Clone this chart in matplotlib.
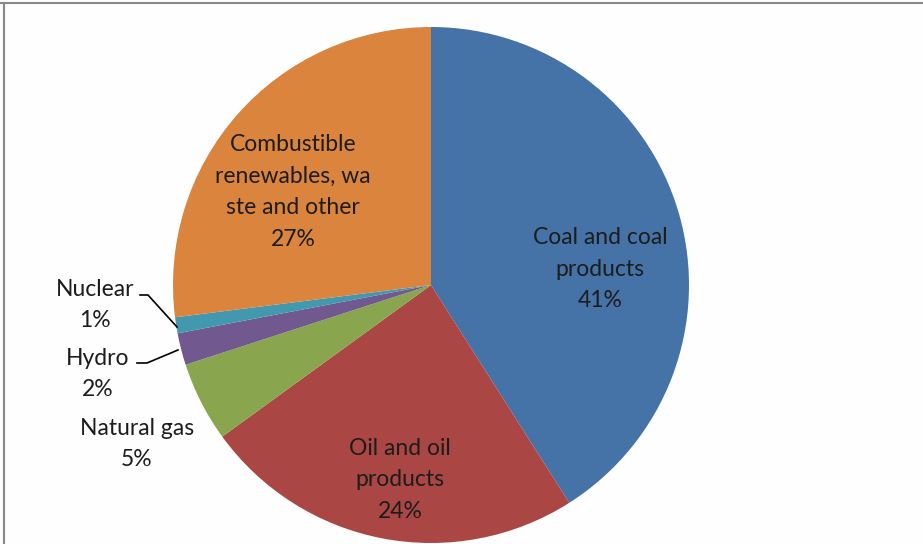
import matplotlib
matplotlib.use("Agg")
import matplotlib.pyplot as plt
from matplotlib.lines import Line2D

# Energy supply shares by source
sources = ["Coal and coal products", "Oil and oil products", "Natural gas",
           "Hydro", "Nuclear", "Combustible renewables, waste and other"]
shares = [41, 24, 5, 2, 1, 27]
label_text = ["Coal and coal\nproducts", "Oil and oil\nproducts", "Natural gas",
              "Hydro", "Nuclear", "Combustible\nrenewables, wa\nste and other"]
colors = ["#4572A7", "#AA4643", "#89A54E", "#71588F", "#4198AF", "#DB843D"]

W, H = 923, 544
fig = plt.figure(figsize=(W / 100, H / 100), dpi=100, facecolor="#fefefe")
ax = fig.add_axes([0, 0, 1, 1])

cx, cy, r = 431, H - 285, 258
ax.pie(shares, colors=colors, startangle=90, counterclock=False,
       center=(cx, cy), radius=r, frame=True,
       wedgeprops=dict(linewidth=0))
ax.set_xlim(0, W)
ax.set_ylim(0, H)
ax.set_aspect("equal")
ax.axis("off")

# label anchor points (pixel coords from top-left)
pos = [(600, 269), (400, 480), (137, 444), (98, 374), (95, 305), (293, 192)]
for txt, val, (x, y) in zip(label_text, shares, pos):
    ax.text(x, H - y, f"{txt}\n{val}%", ha="center", va="center",
            fontsize=16.5, family="Lato", color="#1c1c1c", linespacing=1.62)

# leader lines for the thin slices
ax.plot([140, 148, 177], [H - 295, H - 295, H - 327], color="black", lw=1.2)
ax.plot([137, 147, 178], [H - 363, H - 363, H - 350], color="black", lw=1.2)

# outer frame (top and left edges)
fig.add_artist(Line2D([0, 1], [1 - 3 / H, 1 - 3 / H], color="#888888", lw=1.5,
                      transform=fig.transFigure))
fig.add_artist(Line2D([4 / W, 4 / W], [0, 1 - 3 / H], color="#888888", lw=1.5,
                      transform=fig.transFigure))

fig.savefig("out.png", dpi=100, facecolor=fig.get_facecolor())
